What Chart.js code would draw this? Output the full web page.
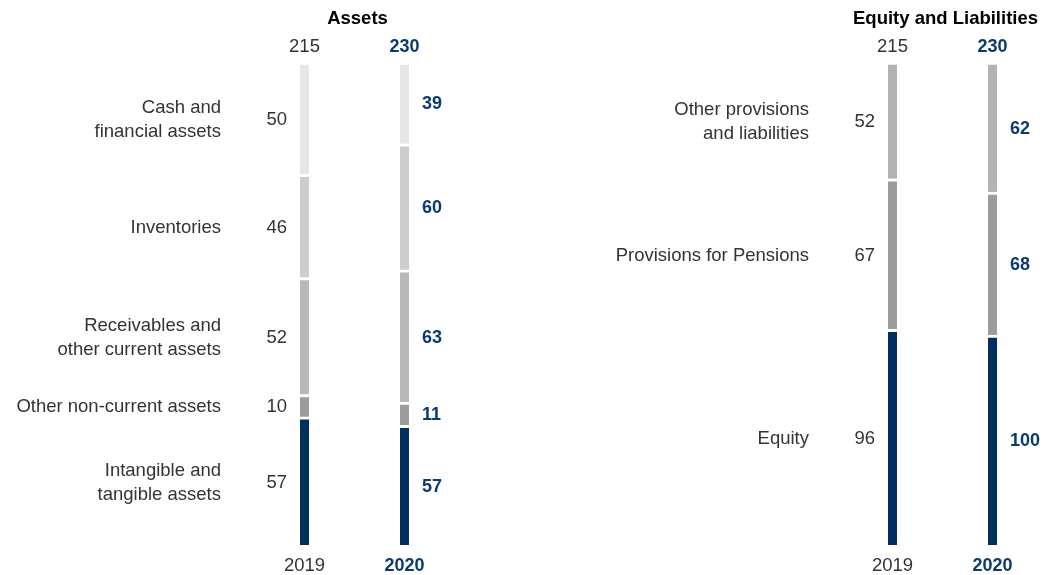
<html>
<head>
    <script src="https://cdn.jsdelivr.net/npm/chart.js"></script>
    <style>
        body { margin: 0; background: #fff; }
        .panel { position: absolute; top: 0; width: 522px; height: 575px; }
    </style>
</head>
<body>
    <div class="panel" style="left:0"><canvas id="assetsChart" width="522" height="575"></canvas></div>
    <div class="panel" style="left:522px"><canvas id="equityChart" width="522" height="575"></canvas></div>
    <script>
        // data (bottom segment first)
        const years = ['2019', '2020'];

        const assetLabels = [['Intangible and', 'tangible assets'], ['Other non-current assets'], ['Receivables and', 'other current assets'], ['Inventories'], ['Cash and', 'financial assets']];
        const assets2019 = [57, 10, 52, 46, 50];
        const assets2020 = [57, 11, 63, 60, 39];
        const assetColors = ['#00305f', '#9c9c9c', '#b8b8b8', '#cdcdcd', '#e6e6e6'];

        const equityLabels = [['Equity'], ['Provisions for Pensions'], ['Other provisions', 'and liabilities']];
        const equity2019 = [96, 67, 52];
        const equity2020 = [100, 68, 62];
        const equityColors = ['#00305f', '#9c9c9c', '#b3b3b3'];

        const NAVY = '#0b3a6e';
        const TEXT = '#333333';
        const FONT = '"Liberation Sans", Arial, sans-serif';

        const sum = arr => arr.reduce((a, b) => a + b, 0);

        // labels, values, totals and titles drawn next to the bars
        const labelPlugin = {
            id: 'labels',
            afterDatasetsDraw(chart, args, opts) {
                const ctx = chart.ctx;
                ctx.save();
                ctx.textBaseline = 'middle';
                chart.data.datasets.forEach((ds, i) => {
                    const meta = chart.getDatasetMeta(i);
                    const b0 = meta.data[0], b1 = meta.data[1];
                    const mid0 = (b0.y + 3 + b0.base) / 2;
                    const mid1 = (b1.y + 3 + b1.base) / 2;
                    const left0 = b0.x - b0.width / 2;

                    ctx.font = '18.5px ' + FONT;
                    ctx.fillStyle = TEXT;
                    ctx.textAlign = 'right';
                    const lines = ds.catLabel;
                    lines.forEach((line, k) => {
                        ctx.fillText(line, left0 - 79, mid0 + (k - (lines.length - 1) / 2) * 24);
                    });
                    ctx.fillText(ds.raw[0], left0 - 13, mid0);

                    ctx.font = 'bold 18px ' + FONT;
                    ctx.fillStyle = NAVY;
                    ctx.textAlign = 'left';
                    ctx.fillText(ds.raw[1], b1.x + b1.width / 2 + 13, mid1);
                });

                const meta = chart.getDatasetMeta(0);
                const x0 = meta.data[0].x, x1 = meta.data[1].x;
                ctx.textAlign = 'center';
                ctx.font = '18.5px ' + FONT;
                ctx.fillStyle = TEXT;
                ctx.fillText(opts.totals[0], x0, 47);
                ctx.fillText(years[0], x0, 566);
                ctx.font = 'bold 18px ' + FONT;
                ctx.fillStyle = NAVY;
                ctx.fillText(opts.totals[1], x1, 47);
                ctx.fillText(years[1], x1, 566);

                ctx.fillStyle = '#000';
                ctx.font = 'bold 18.5px ' + FONT;
                ctx.fillText(opts.title, (x0 + x1) / 2 + 3, 19);
                ctx.restore();
            }
        };

        function makeChart(canvasId, title, labels, v2019, v2020, colors, padLeft, padRight) {
            const t2019 = sum(v2019), t2020 = sum(v2020);
            const datasets = labels.map((lab, i) => ({
                label: lab.join(' '),
                catLabel: lab,
                raw: [v2019[i], v2020[i]],
                data: [v2019[i] / t2019 * 100, v2020[i] / t2020 * 100],
                backgroundColor: colors[i],
                borderColor: '#ffffff',
                borderWidth: { top: 3, bottom: 0, left: 0, right: 0 },
                borderSkipped: false,
                barThickness: 9
            }));

            new Chart(document.getElementById(canvasId), {
                type: 'bar',
                data: { labels: years, datasets },
                options: {
                    responsive: false,
                    animation: false,
                    layout: { padding: { left: padLeft, right: padRight, top: 62, bottom: 30 } },
                    plugins: {
                        legend: { display: false },
                        tooltip: { enabled: false },
                        labels: { title, totals: [t2019, t2020] }
                    },
                    scales: {
                        x: { stacked: true, display: false },
                        y: { stacked: true, display: false, min: 0, max: 100 }
                    }
                },
                plugins: [labelPlugin]
            });
        }

        makeChart('assetsChart', 'Assets', assetLabels, assets2019, assets2020, assetColors, 254.5, 67.5);
        makeChart('equityChart', 'Equity and Liabilities', equityLabels, equity2019, equity2020, equityColors, 320.5, 1.5);
    </script>
</body>
</html>
